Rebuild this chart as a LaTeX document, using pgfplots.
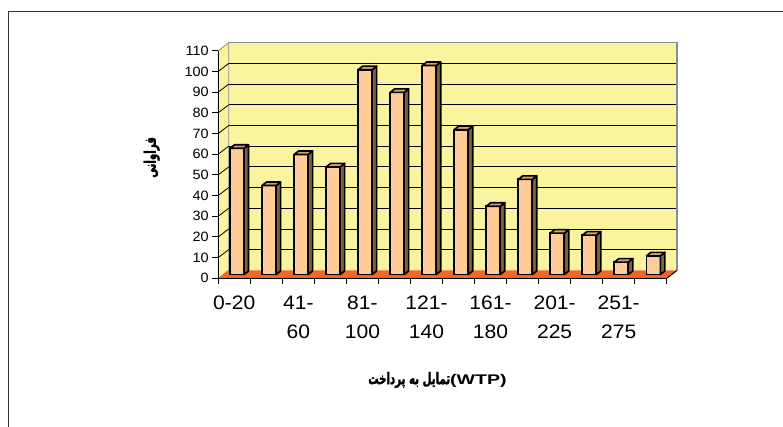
\documentclass[border=0pt]{standalone}
\usepackage{fontspec}
\setmainfont{Liberation Sans}
\newfontfamily\arabicfont[Script=Arabic, FakeStretch=0.64, FakeBold=1.6]{DejaVu Sans}
\newfontfamily\xfont[FakeStretch=1.08]{Liberation Sans}
\newfontfamily\yfont[FakeStretch=1.07]{Liberation Sans}
\newfontfamily\wtpfont[FakeStretch=1.4]{Liberation Sans}
\usepackage{pgfplots}
\pgfplotsset{compat=1.18}
\usepackage{pgfplotstable}
\TeXXeTstate=1
\definecolor{wall}{RGB}{250,244,158}
\definecolor{floorc}{RGB}{242,101,34}
\definecolor{barfront}{RGB}{255,204,153}
\definecolor{barside}{RGB}{122,97,72}
\definecolor{bartop}{RGB}{204,163,122}
\definecolor{wallgray}{RGB}{140,140,140}

\pgfplotstableread{
x y
0 61
1 43
2 58
3 52
4 99
5 88
6 101
7 70
8 33
9 46
10 20
11 19
12 6
13 9
}\freq

\pgfdeclareplotmark{nothing}{}
\def\dx{10.4pt}
\def\dy{8pt}

\begin{document}
\begin{tikzpicture}
\useasboundingbox (0,0) rectangle (783pt,427pt);
\draw[line width=1.1pt, black!80] (8.3pt,0pt) -- (8.3pt,415.3pt) -- (783pt,415.3pt);

\begin{axis}[
 at={(218.3pt,148.7pt)}, anchor=south west,
 x=32.03pt, y=2.069pt,
 xmin=-0.5, xmax=13.5, ymin=0, ymax=110,
 axis on top, clip=false,
 axis x line*=bottom, axis y line*=left,
 axis line style={black, line width=1pt, -},
 tick style={black, line width=1pt},
 tick align=outside, major tick length=6pt,
 /pgf/number format/assume math mode=true,
 ytick={0,10,...,110},
 yticklabel style={font=\yfont\fontsize{13.5}{15}\selectfont},
 xtick={-0.5,0.5,...,13.5}, xticklabels={},
 extra x ticks={0,...,13},
 extra x tick labels={0-20,,{41-\\60},,{81-\\100},,{121-\\140},,{161-\\180},,{201-\\225},,{251-\\275},},
 extra x tick style={major tick length=0pt, xticklabel style={font=\xfont\fontsize{19.5}{29}\selectfont, align=center, yshift=-14pt}},
]
% back wall
\fill[wall] ([shift={(\dx,\dy)}]axis cs:-0.5,0) rectangle ([shift={(\dx,\dy)}]axis cs:13.5,110);
\pgfplotsinvokeforeach{10,20,...,100}{
  \draw[black, line width=0.8pt] ([shift={(\dx,\dy)}]axis cs:-0.5,#1) -- ([shift={(\dx,\dy)}]axis cs:13.5,#1);
}
\draw[wallgray, line width=1.3pt] ([shift={(\dx,\dy)}]axis cs:-0.5,110) -- ([shift={(\dx,\dy)}]axis cs:13.5,110) -- ([shift={(\dx,\dy)}]axis cs:13.5,0);
% left wall
\filldraw[fill=wall, draw=wallgray, line width=0.8pt] (axis cs:-0.5,0) -- ([shift={(\dx,\dy)}]axis cs:-0.5,0) -- ([shift={(\dx,\dy)}]axis cs:-0.5,110) -- (axis cs:-0.5,110) -- cycle;
\pgfplotsinvokeforeach{10,20,...,100}{
  \draw[black, line width=0.8pt] (axis cs:-0.5,#1) -- ([shift={(\dx,\dy)}]axis cs:-0.5,#1);
}
% floor
\fill[floorc] (axis cs:-0.5,0) -- (axis cs:13.5,0) -- ([shift={(\dx,\dy)}]axis cs:13.5,0) -- ([shift={(\dx,\dy)}]axis cs:-0.5,0) -- cycle;
\draw[black, line width=1pt] (axis cs:13.5,0) -- ([shift={(\dx,\dy)}]axis cs:13.5,0);
\end{axis}

\begin{axis}[
 at={(221pt,152.5pt)}, anchor=south west,
 x=32.03pt, y=2.069pt,
 xmin=-0.5, xmax=13.5, ymin=0, ymax=110,
 hide axis, clip=false,
]
\addplot[ybar, bar width=14pt, fill=barfront, draw=black, line width=1.8pt] table[x=x,y=y]{\freq};
\addplot[scatter, only marks, mark=nothing,
  visualization depends on={rawy \as \h},
  scatter/@pre marker code/.code={
    \pgfmathsetlengthmacro\hh{\h*2.069pt}
    \filldraw[fill=barside, draw=black, line width=1.6pt, line join=round] (7pt,-\hh) -- (7pt,0pt) -- (11.5pt,3.5pt) -- (11.5pt,{3.5pt-\hh}) -- cycle;
    \filldraw[fill=bartop, draw=black, line width=1.6pt, line join=round] (-7pt,0pt) -- (7pt,0pt) -- (11.5pt,3.5pt) -- (-2.5pt,3.5pt) -- cycle;
  },
  scatter/@post marker code/.code={}
] table[x=x,y=y]{\freq};
\end{axis}

\node[rotate=90, font=\arabicfont\bfseries\fontsize{16}{18}\selectfont] at (151.7pt,269.5pt) {\beginR فراوانی\endR};
\node[font=\bfseries\fontsize{16}{18}\selectfont, inner sep=0pt] at (437.5pt,47pt) {{\arabicfont\beginR تمایل به پرداخت\endR}{\wtpfont\fontsize{14}{16}\selectfont(WTP)}};
\end{tikzpicture}
\end{document}
